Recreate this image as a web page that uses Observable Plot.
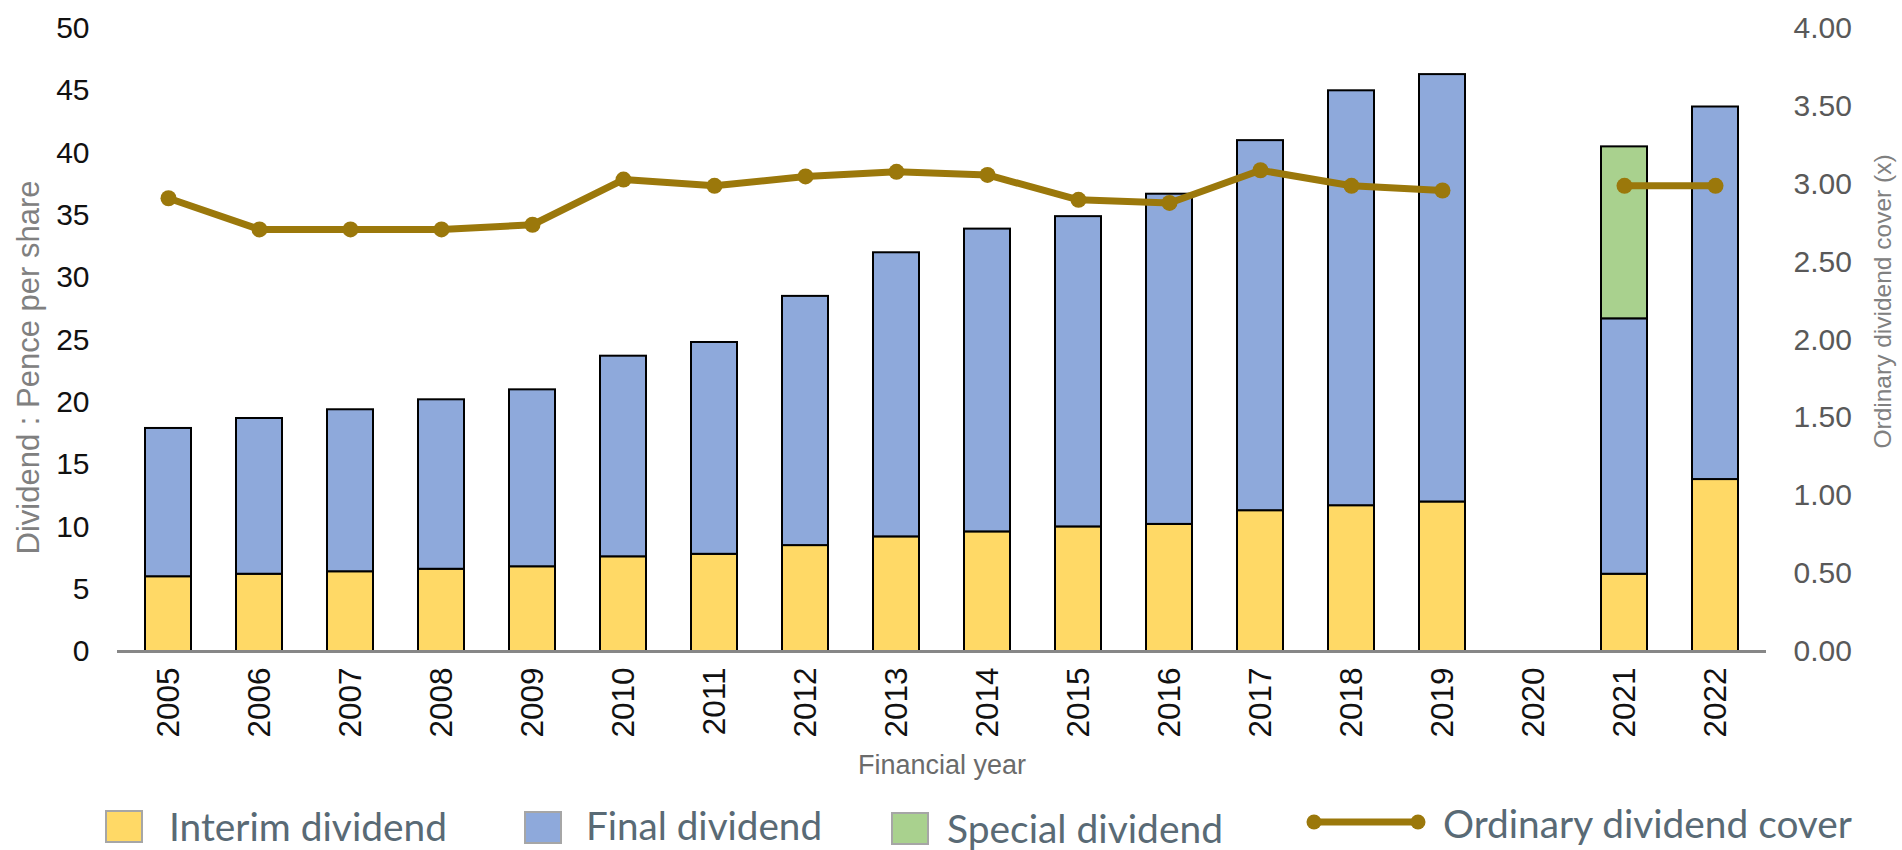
<!DOCTYPE html>
<html>
<head>
<meta charset="utf-8">
<script src="https://cdn.jsdelivr.net/npm/d3@7"></script>
<script src="https://cdn.jsdelivr.net/npm/@observablehq/plot@0.6"></script>
<style>
  html, body { margin: 0; padding: 0; background: #fff; }
  #chart svg { display: block; }
  #legend { display: block; }
</style>
</head>
<body>
<div id="chart"></div>
<svg id="legend" width="1902" height="55"></svg>
<script>
// ---- data ----
const years = ["2005","2006","2007","2008","2009","2010","2011","2012","2013","2014","2015","2016","2017","2018","2019","2020","2021","2022"];
const interim  = [6.0, 6.2, 6.4, 6.6, 6.8, 7.6, 7.8, 8.5, 9.2, 9.6, 10.0, 10.2, 11.3, 11.7, 12.0, null, 6.2, 13.8];
const finalDiv = [11.9, 12.5, 13.0, 13.6, 14.2, 16.1, 17.0, 20.0, 22.8, 24.3, 24.9, 26.5, 29.7, 33.3, 34.3, null, 20.5, 29.9];
const special  = [null, null, null, null, null, null, null, null, null, null, null, null, null, null, null, null, 13.8, null];
const cover    = [2.91, 2.71, 2.71, 2.71, 2.74, 3.03, 2.99, 3.05, 3.08, 3.06, 2.90, 2.88, 3.09, 2.99, 2.96, null, 2.99, 2.99];
const seriesNames = ["Interim dividend", "Final dividend", "Special dividend"];
const lineName = "Ordinary dividend cover";
const leftTicks = [0, 5, 10, 15, 20, 25, 30, 35, 40, 45, 50];
const rightTicks = [0, 0.5, 1, 1.5, 2, 2.5, 3, 3.5, 4];
const leftTitle = "Dividend : Pence per share";
const rightTitle = "Ordinary dividend cover (x)";
const xTitle = "Financial year";

// ---- styling ----
const colors = ["#FFD966", "#8EA9DB", "#A9D18E"];
const lineColor = "#9B780B";
const factor = 50 / 4; // right axis max 4.00 aligned with left axis max 50

const seriesValues = [interim, finalDiv, special];
const rows = [];
years.forEach((yr, i) => {
  seriesNames.forEach((s, j) => {
    const v = seriesValues[j][i];
    if (v != null) rows.push({year: yr, series: s, value: v});
  });
});
const coverRows = years.map((yr, i) => ({year: yr, cover: cover[i]}));

const W = 1902, H = 795;
const mTop = 28, mBottom = H - 651, mLeft = 117, mRight = W - 1766;
const frameMidY = (mTop + (H - mBottom)) / 2;

const chart = Plot.plot({
  width: W,
  height: H,
  marginTop: mTop,
  marginBottom: mBottom,
  marginLeft: mLeft,
  marginRight: mRight,
  style: {fontFamily: "'Liberation Sans', Arial, sans-serif", fontSize: "30px", color: "#000", background: "#fff"},
  x: {type: "band", domain: years, paddingInner: 0.5, paddingOuter: 0.25},
  y: {domain: [0, 50]},
  color: {domain: seriesNames, range: colors},
  marks: [
    Plot.barY(rows, {x: "year", y: "value", fill: "series", order: seriesNames, stroke: "#000", strokeWidth: 2}),
    Plot.ruleY([0], {stroke: "#878787", strokeWidth: 3}),
    Plot.line(coverRows, {x: "year", y: d => d.cover == null ? NaN : d.cover * factor, stroke: lineColor, strokeWidth: 7, strokeLinejoin: "round", strokeLinecap: "round"}),
    Plot.dot(coverRows.filter(d => d.cover != null), {x: "year", y: d => d.cover * factor, r: 8, fill: lineColor}),
    Plot.axisY(leftTicks, {anchor: "left", tickSize: 0, tickPadding: 28, fontSize: 30, fill: "#111", label: null}),
    Plot.axisY(rightTicks.map(v => v * factor), {anchor: "right", tickSize: 0, tickPadding: 27, fontSize: 30, fill: "#595959", label: null, tickFormat: d => (d / factor).toFixed(2)}),
    Plot.axisX({tickRotate: -90, tickSize: 0, tickPadding: 16, fontSize: 31.5, fill: "#111", label: null}),
    Plot.text([leftTitle], {text: d => d, frameAnchor: "left", textAnchor: "middle", lineAnchor: "middle", dx: 29 - mLeft, dy: 367 - frameMidY, rotate: -90, fontSize: 31, fill: "#808080"}),
    Plot.text([rightTitle], {text: d => d, frameAnchor: "right", textAnchor: "middle", lineAnchor: "middle", dx: 1883 - (W - mRight), dy: 301 - frameMidY, rotate: -90, fontSize: 24.5, fill: "#808080"}),
    Plot.text([xTitle], {text: d => d, frameAnchor: "bottom", textAnchor: "middle", lineAnchor: "middle", dy: 765 - 651, fontSize: 27, fill: "#6b6b6b"})
  ]
});
document.getElementById("chart").appendChild(chart);

// ---- legend (below the chart) ----
const legend = d3.select("#legend");
const lf = "Lato, 'Open Sans', sans-serif";
const legendItems = [
  {label: seriesNames[0], color: colors[0], sx: 106, sy: 16, tx: 169, ty: 46, tl: 278},
  {label: seriesNames[1], color: colors[1], sx: 525, sy: 17, tx: 586, ty: 45, tl: 236},
  {label: seriesNames[2], color: colors[2], sx: 892, sy: 18, tx: 947, ty: 48, tl: 276}
];
legendItems.forEach(it => {
  legend.append("rect").attr("x", it.sx).attr("y", it.sy).attr("width", 36).attr("height", 31)
    .attr("fill", it.color).attr("stroke", "#a6a6a6").attr("stroke-width", 2);
  legend.append("text").attr("x", it.tx).attr("y", it.ty).text(it.label)
    .attr("font-family", lf).attr("font-size", 39).attr("fill", "#596a75")
    .attr("textLength", it.tl).attr("lengthAdjust", "spacingAndGlyphs");
});
legend.append("line").attr("x1", 1314).attr("x2", 1418).attr("y1", 27).attr("y2", 27)
  .attr("stroke", lineColor).attr("stroke-width", 7);
[1314, 1418].forEach(cx => legend.append("circle").attr("cx", cx).attr("cy", 27).attr("r", 7.5).attr("fill", lineColor));
legend.append("text").attr("x", 1443).attr("y", 43).text(lineName)
  .attr("font-family", lf).attr("font-size", 39).attr("fill", "#596a75")
  .attr("textLength", 409).attr("lengthAdjust", "spacingAndGlyphs");
</script>
</body>
</html>
